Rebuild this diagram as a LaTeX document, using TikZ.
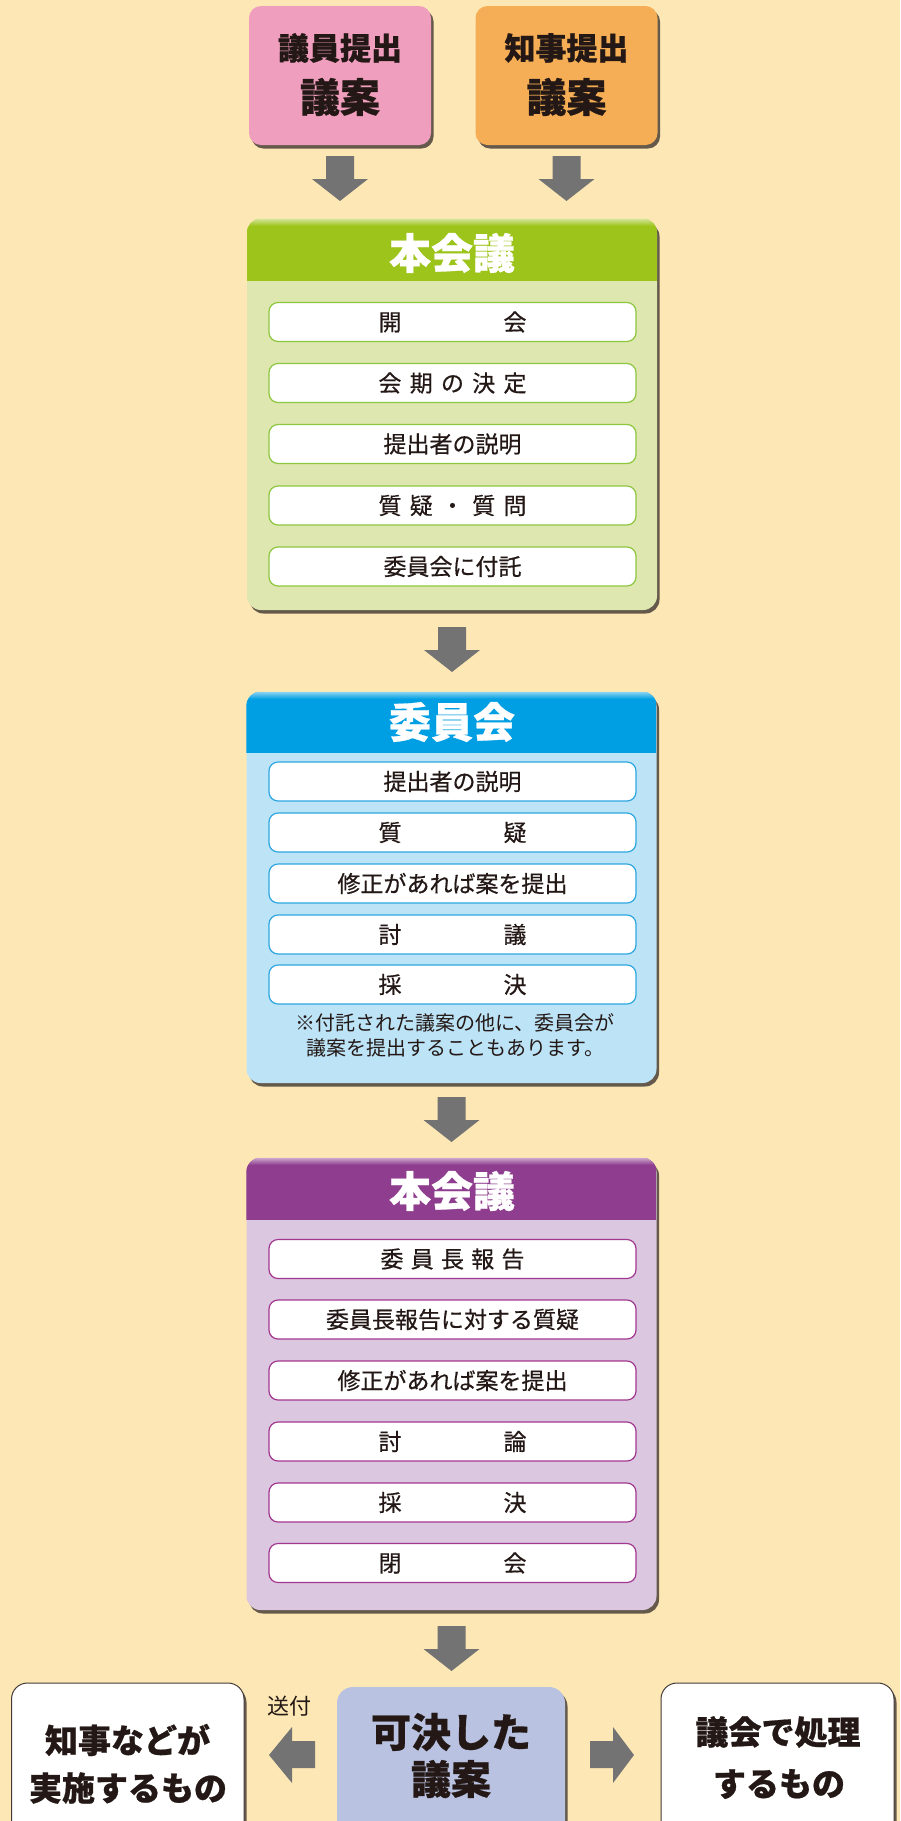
\documentclass[tikz,border=0pt]{standalone}
\usepackage{fontspec}
\newfontfamily\jp{Noto Sans CJK JP}
\newfontfamily\jpheavy{Noto Sans CJK JP}[BoldFeatures={FakeBold=0.7}]
\newfontfamily\jpmed{Noto Sans CJK JP}[FakeBold=0.5]
\usetikzlibrary{shadows,calc}
\definecolor{bg}{HTML}{FDE8B5}
\definecolor{ink}{HTML}{231815}
\definecolor{pinkbox}{HTML}{F09EBD}
\definecolor{orangebox}{HTML}{F5AE55}
\definecolor{ghead}{HTML}{9DC41A}
\definecolor{gbody}{HTML}{DEE7AF}
\definecolor{gline}{HTML}{8DC63F}
\definecolor{bhead}{HTML}{009FE3}
\definecolor{bbody}{HTML}{BDE3F7}
\definecolor{bline}{HTML}{2EA7E0}
\definecolor{phead}{HTML}{8F3D8F}
\definecolor{pbody}{HTML}{DBC7DF}
\definecolor{pline}{HTML}{A2378F}
\definecolor{arrowgrey}{HTML}{737373}
\definecolor{resbox}{HTML}{B9C2E1}
\definecolor{shadowc}{HTML}{4A4038}
\tikzset{
  shad/.style={drop shadow={shadow xshift=2.5pt, shadow yshift=-3.5pt, fill=shadowc, opacity=.85}},
  topbox/.style={rectangle, rounded corners=12pt, minimum width=182pt, minimum height=139pt, shad, inner sep=0pt},
  bigbox/.style={rectangle, rounded corners=14pt, minimum width=410pt, shad, inner sep=0pt},
  itembox/.style={rectangle, rounded corners=9pt, fill=white, draw=#1, line width=1.2pt,
     minimum width=367pt, minimum height=39pt, inner sep=0pt, text=ink,
     font=\jpmed\fontsize{23}{23}\selectfont},
  titletext/.style={text=white, inner sep=0pt, font=\jpheavy\bfseries\fontsize{42}{42}\selectfont},
  toptext/.style={text=ink, inner sep=0pt, font=\jpheavy\bfseries\fontsize{31}{31}\selectfont},
  bigtext/.style={text=ink, inner sep=0pt, font=\jpheavy\bfseries\fontsize{40}{40}\selectfont},
  sidetext/.style={text=ink, inner sep=0pt, font=\jpheavy\bfseries\fontsize{33}{33}\selectfont},
  notetext/.style={text=ink, inner sep=0pt, align=center, font=\jp\fontsize{20}{25}\selectfont},
  whitebox/.style={rectangle, rounded corners=16pt, fill=white, draw=ink!85, line width=1pt, shad, inner sep=0pt},
  pics/dnarrow/.style={code={\fill[arrowgrey] (-14,0) -- (14,0) -- (14,-23) -- (28,-23) -- (0,-45) -- (-28,-23) -- (-14,-23) -- cycle;}},
  pics/ltarrow/.style={code={\fill[arrowgrey] (0,0) -- (23,28) -- (23,14) -- (46,14) -- (46,-13) -- (23,-13) -- (23,-28) -- cycle;}},
  pics/rtarrow/.style={code={\fill[arrowgrey] (0,0) -- (-21,28) -- (-21,14) -- (-44,14) -- (-44,-13) -- (-21,-13) -- (-21,-28) -- cycle;}},
}
\newcommand{\spread}[1]{\hbox to 148pt{#1}}
\newcommand{\headerfill}[3]{% node, colour, height
  \begin{scope}
    \clip[rounded corners=14pt] (#1.north west) rectangle (#1.south east);
    \fill[#2] (#1.north west) rectangle ([yshift=-#3]#1.north east);
    \shade[top color=#2!45!white, bottom color=#2] (#1.north west) rectangle ([yshift=-7pt]#1.north east);
  \end{scope}}
\begin{document}
\begin{tikzpicture}[x=1pt,y=1pt]
\useasboundingbox (0,0) rectangle (900,-1821);
\fill[bg] (0,0) rectangle (900,-1821);

% top boxes
\node[topbox, fill=pinkbox] (pink) at (340,-75.5) {};
\node[toptext] (pinkt1) at (340,-48) {議員提出};
\node[bigtext] (pinkt2) at (340,-97) {議案};
\node[topbox, fill=orangebox] (orange) at (566.5,-75.5) {};
\node[toptext] (oranget1) at (566.5,-48) {知事提出};
\node[bigtext] (oranget2) at (566.5,-97) {議案};

% green box
\node[bigbox, fill=gbody, minimum height=391pt] (green) at (452,-414.5) {};
\headerfill{green}{ghead}{62pt}
\node[titletext] (gtitle) at (452,-253) {本会議};
\node[itembox=gline] (g1) at (452.5,-322) {\spread{開\hfil 会}};
\node[itembox=gline] (g2) at (452.5,-383) {\spread{会\hfil 期\hfil の\hfil 決\hfil 定}};
\node[itembox=gline] (g3) at (452.5,-444) {提出者の説明};
\node[itembox=gline] (g4) at (452.5,-505.5) {\spread{質\hfil 疑\hfil ・\hfil 質\hfil 問}};
\node[itembox=gline] (g5) at (452.5,-566.5) {委員会に付託};

% blue box
\node[bigbox, fill=bbody, minimum height=391pt] (blue) at (451.5,-887.5) {};
\headerfill{blue}{bhead}{61pt}
\node[titletext] (btitle) at (452,-722) {委員会};
\node[itembox=bline] (b1) at (452.5,-781.5) {提出者の説明};
\node[itembox=bline] (b2) at (452.5,-832.5) {\spread{質\hfil 疑}};
\node[itembox=bline] (b3) at (452.5,-883.5) {修正があれば案を提出};
\node[itembox=bline] (b4) at (452.5,-934.5) {\spread{討\hfil 議}};
\node[itembox=bline] (b5) at (452.5,-984.5) {\spread{採\hfil 決}};
\node[notetext] (bnote) at (455,-1035.5) {※付託された議案の他に、委員会が\\議案を提出することもあります。};

% purple box
\node[bigbox, fill=pbody, minimum height=452pt] (purple) at (451.5,-1384) {};
\headerfill{purple}{phead}{62pt}
\node[titletext] (ptitle) at (452,-1191) {本会議};
\node[itembox=pline] (p1) at (452.5,-1259) {\hbox to 144pt{委\hfil 員\hfil 長\hfil 報\hfil 告}};
\node[itembox=pline] (p2) at (452.5,-1319.5) {委員長報告に対する質疑};
\node[itembox=pline] (p3) at (452.5,-1380.5) {修正があれば案を提出};
\node[itembox=pline] (p4) at (452.5,-1441.5) {\spread{討\hfil 論}};
\node[itembox=pline] (p5) at (452.5,-1502.5) {\spread{採\hfil 決}};
\node[itembox=pline] (p6) at (452.5,-1563) {\spread{閉\hfil 会}};

% bottom boxes
\node[whitebox, minimum width=232.5pt, minimum height=180pt] (left) at (127.75,-1773) {};
\node[sidetext] (lt1) at (127.5,-1740) {知事などが};
\node[sidetext] (lt2) at (128,-1788) {実施するもの};
\node[rectangle, rounded corners=16pt, fill=resbox, shad, minimum width=228pt, minimum height=180pt] (result) at (451,-1777) {};
\node[bigtext] (rt1) at (451,-1732) {可決した};
\node[bigtext] (rt2) at (451,-1779) {議案};
\node[whitebox, minimum width=233pt, minimum height=180pt] (right) at (777.5,-1773) {};
\node[sidetext] (rgt1) at (778,-1732) {議会で処理};
\node[sidetext] (rgt2) at (779,-1784) {するもの};
\node[text=ink, inner sep=0pt, font=\jp\fontsize{22}{22}\selectfont] (sofu) at (289,-1706) {送付};

% arrows
\pic at (pink.south |- 0,-156) {dnarrow};
\pic at (orange.south |- 0,-156) {dnarrow};
\pic at (green.south |- 0,-627) {dnarrow};
\pic at (blue.south |- 0,-1097) {dnarrow};
\pic at (purple.south |- 0,-1626) {dnarrow};
\pic at (269,-1755) {ltarrow};
\pic at (634,-1755) {rtarrow};
\end{tikzpicture}
\end{document}
